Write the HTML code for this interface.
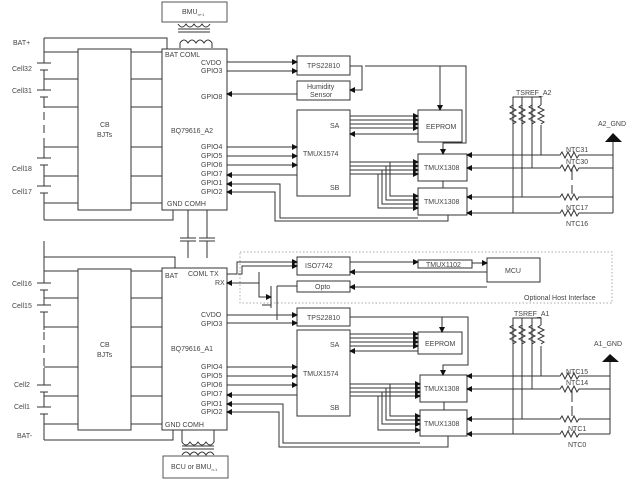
<!DOCTYPE html>
<html><head><meta charset="utf-8"><style>
html,body{margin:0;padding:0;background:#fff}
svg{display:block}
text{font-family:"Liberation Sans",sans-serif;font-size:7px;fill:#444}
</style></head><body>
<svg width="632" height="480" viewBox="0 0 632 480" xmlns="http://www.w3.org/2000/svg">
<defs>
<marker id="a" markerWidth="6" markerHeight="6" refX="5" refY="3" orient="auto" markerUnits="userSpaceOnUse"><path d="M0,0 L6,3 L0,6 z" fill="#111"/></marker>
</defs>
<g stroke="#333" stroke-width="1" fill="none">
<!-- ===== TOP HALF ===== -->
<rect x="162" y="2" width="65" height="20" stroke="#555"/>
<path d="M178,24 q4,6 8,0 q4,6 8,0 q4,6 8,0 q4,6 8,0"/>
<line x1="178" y1="29" x2="210" y2="29"/><line x1="178" y1="32" x2="210" y2="32"/>
<path d="M180,48 V43 q4,-6 8,0 q4,-6 8,0 q4,-6 8,0 q4,-6 8,0 V48"/>
<rect x="162" y="49" width="65" height="161"/>
<rect x="78" y="49" width="53" height="161"/>
<path d="M44,38 H167 V49"/>
<path d="M44,38 V63 M44,70 V90 M44,97 V108 M44,158 V145 M44,165 V186 M44,193 V220"/>
<path d="M44,112 V145" stroke-dasharray="8,5"/>
<path d="M37,63 H51 M40,70 H48 M37,90 H51 M40,97 H48 M37,158 H51 M40,165 H48 M37,186 H51 M40,193 H48"/>
<path d="M44,52 H78 M44,79 H78 M44,107 H78 M44,147 H78 M44,176 H78 M44,203 H78"/>
<path d="M131,52 H162 M131,79 H162 M131,107 H162 M131,147 H162 M131,176 H162 M131,203 H162"/>
<path d="M44,220 H173 V210"/>
<path d="M188,210 V238 M207,210 V238 M180,238 H196 M199,238 H215 M180,241 H196 M199,241 H215 M188,241 V258 M207,241 V258"/>
<!-- right side top -->
<rect x="297" y="56" width="53" height="19"/>
<rect x="297" y="81" width="53" height="19"/>
<rect x="297" y="110" width="53" height="86"/>
<rect x="418" y="110" width="44" height="32"/>
<rect x="418" y="154" width="49" height="27"/>
<rect x="418" y="188" width="49" height="27"/>
<line x1="227" y1="62" x2="297" y2="62" marker-end="url(#a)"/>
<line x1="227" y1="71" x2="297" y2="71" marker-end="url(#a)"/>
<line x1="297" y1="94" x2="227" y2="94" marker-end="url(#a)"/>
<line x1="227" y1="147" x2="297" y2="147" marker-end="url(#a)"/>
<line x1="227" y1="156" x2="297" y2="156" marker-end="url(#a)"/>
<line x1="227" y1="165" x2="297" y2="165" marker-end="url(#a)"/>
<line x1="297" y1="175" x2="227" y2="175" marker-end="url(#a)"/>
<path d="M418,218 H280 V184 H227" marker-end="url(#a)"/>
<path d="M448,215 V221 H275 V192 H227" marker-end="url(#a)"/>
<path d="M350,66 H362 V90 H350" marker-end="url(#a)"/>
<path d="M365,66 H440 V110" marker-end="url(#a)"/>
<path d="M440,66 H466 V143 H443 V154" marker-end="url(#a)"/>
<line x1="350" y1="116" x2="418" y2="116" marker-end="url(#a)"/>
<line x1="350" y1="120" x2="418" y2="120" marker-end="url(#a)"/>
<line x1="350" y1="124" x2="418" y2="124" marker-end="url(#a)"/>
<line x1="350" y1="128" x2="418" y2="128" marker-end="url(#a)"/>
<line x1="418" y1="134" x2="350" y2="134" marker-end="url(#a)"/>
<line x1="350" y1="162" x2="418" y2="162" marker-end="url(#a)"/>
<line x1="350" y1="166" x2="418" y2="166" marker-end="url(#a)"/>
<line x1="350" y1="170" x2="418" y2="170" marker-end="url(#a)"/>
<line x1="350" y1="174" x2="418" y2="174" marker-end="url(#a)"/>
<path d="M390,162 V196 H418" marker-end="url(#a)"/>
<path d="M386,166 V200 H418" marker-end="url(#a)"/>
<path d="M382,170 V204 H418" marker-end="url(#a)"/>
<path d="M378,174 V208 H418" marker-end="url(#a)"/>
<line x1="443" y1="181" x2="443" y2="188"/>
<line x1="541" y1="155" x2="467" y2="155" marker-end="url(#a)"/>
<line x1="532" y1="168" x2="467" y2="168" marker-end="url(#a)"/>
<line x1="522" y1="197" x2="467" y2="197" marker-end="url(#a)"/>
<line x1="513" y1="213" x2="467" y2="213" marker-end="url(#a)"/>
<path d="M513,213 V97 H541 V105 M522,197 V105 M532,168 V105 M541,155 V125 M522,97 V105 M532,97 V105 M513,97 V105"/>
<path d="M513,105 l-3,2 6,3 -6,3 6,3 -6,3 6,3 -3,2 M522,105 l-3,2 6,3 -6,3 6,3 -6,3 6,3 -3,2 M532,105 l-3,2 6,3 -6,3 6,3 -6,3 6,3 -3,2 M541,105 l-3,2 6,3 -6,3 6,3 -6,3 6,3 -3,2"/>
<path d="M541,155 H560 l2,-3 3,6 3,-6 3,6 3,-6 3,6 2,-3 H613 M532,168 H560 l2,-3 3,6 3,-6 3,6 3,-6 3,6 2,-3 H613 M522,197 H560 l2,-3 3,6 3,-6 3,6 3,-6 3,6 2,-3 H613 M513,213 H560 l2,-3 3,6 3,-6 3,6 3,-6 3,6 2,-3 H613"/>
<path d="M572,168 V180 M572,185 V194 M613,142 V213"/>
<!-- ===== BOTTOM HALF ===== -->
<rect x="162" y="268" width="65" height="162"/>
<rect x="78" y="269" width="53" height="161"/>
<path d="M44,241 V283 M44,290 V305 M44,312 V330 M44,368 V385 M44,392 V407 M44,414 V440"/>
<path d="M44,332 V368" stroke-dasharray="8,5"/>
<path d="M37,283 H51 M40,290 H48 M37,305 H51 M40,312 H48 M37,385 H51 M40,392 H48 M37,407 H51 M40,414 H48"/>
<path d="M44,257 H175 V268"/>
<path d="M44,271 H78 M44,298 H78 M44,327 H78 M44,367 H78 M44,396 H78 M44,424 H78"/>
<path d="M131,271 H162 M131,298 H162 M131,327 H162 M131,367 H162 M131,396 H162 M131,424 H162"/>
<path d="M44,440 H173 V430"/>
<path d="M182,430 V442 q4,6 8,0 q4,6 8,0 q4,6 8,0 q4,6 8,0 V430"/>
<line x1="182" y1="446" x2="214" y2="446"/><line x1="182" y1="449" x2="214" y2="449"/>
<path d="M182,455 q4,-6 8,0 q4,-6 8,0 q4,-6 8,0 q4,-6 8,0"/>
<rect x="163" y="456" width="65" height="22" stroke="#555"/>
<rect x="240" y="252" width="372" height="51" stroke="#aaa" stroke-dasharray="1.5,2"/>
<rect x="297" y="257" width="53" height="18"/>
<rect x="297" y="281" width="53" height="11"/>
<rect x="418" y="260" width="54" height="8"/>
<rect x="487" y="258" width="53" height="24"/>
<path d="M227,274 H237 V262 H297" marker-end="url(#a)"/>
<path d="M238,274 H242 V266 H297" marker-end="url(#a)"/>
<path d="M259,272 V297 H271" marker-end="url(#a)"/>
<line x1="259" y1="283" x2="227" y2="283" marker-end="url(#a)"/>
<path d="M271,286 V308 M262,305 H271 M277,286 H297 V286 M277,286 V320"/>
<line x1="350" y1="262" x2="418" y2="262" marker-end="url(#a)"/>
<line x1="472" y1="263" x2="487" y2="263" marker-end="url(#a)"/>
<line x1="487" y1="272" x2="350" y2="272" marker-end="url(#a)"/>
<line x1="487" y1="287" x2="350" y2="287" marker-end="url(#a)"/>
<rect x="297" y="308" width="53" height="18"/>
<rect x="297" y="330" width="53" height="86"/>
<rect x="418" y="332" width="44" height="22"/>
<rect x="420" y="375" width="47" height="27"/>
<rect x="420" y="410" width="47" height="26"/>
<line x1="227" y1="315" x2="297" y2="315" marker-end="url(#a)"/>
<line x1="227" y1="323" x2="297" y2="323" marker-end="url(#a)"/>
<line x1="227" y1="367" x2="297" y2="367" marker-end="url(#a)"/>
<line x1="227" y1="376" x2="297" y2="376" marker-end="url(#a)"/>
<line x1="227" y1="385" x2="297" y2="385" marker-end="url(#a)"/>
<line x1="297" y1="395" x2="227" y2="395" marker-end="url(#a)"/>
<path d="M420,443 H283 V404 H227" marker-end="url(#a)"/>
<path d="M448,436 V447 H279 V412 H227" marker-end="url(#a)"/>
<path d="M350,317 H442 V332" marker-end="url(#a)"/>
<path d="M442,317 H468 V365 H443 V375" marker-end="url(#a)"/>
<line x1="350" y1="334" x2="418" y2="334" marker-end="url(#a)"/>
<line x1="350" y1="338" x2="418" y2="338" marker-end="url(#a)"/>
<line x1="350" y1="342" x2="418" y2="342" marker-end="url(#a)"/>
<line x1="350" y1="346" x2="418" y2="346" marker-end="url(#a)"/>
<line x1="418" y1="351" x2="350" y2="351" marker-end="url(#a)"/>
<line x1="350" y1="384" x2="420" y2="384" marker-end="url(#a)"/>
<line x1="350" y1="388" x2="420" y2="388" marker-end="url(#a)"/>
<line x1="350" y1="392" x2="420" y2="392" marker-end="url(#a)"/>
<line x1="350" y1="396" x2="420" y2="396" marker-end="url(#a)"/>
<path d="M390,384 V416 H420" marker-end="url(#a)"/>
<path d="M386,388 V420 H420" marker-end="url(#a)"/>
<path d="M382,392 V424 H420" marker-end="url(#a)"/>
<path d="M378,396 V430 H420" marker-end="url(#a)"/>
<line x1="444" y1="402" x2="444" y2="410"/>
<line x1="541" y1="376" x2="467" y2="376" marker-end="url(#a)"/>
<line x1="532" y1="389" x2="467" y2="389" marker-end="url(#a)"/>
<line x1="522" y1="419" x2="467" y2="419" marker-end="url(#a)"/>
<line x1="513" y1="434" x2="467" y2="434" marker-end="url(#a)"/>
<path d="M513,434 V318 H541 V325 M522,419 V325 M532,389 V325 M541,376 V346 M522,318 V325 M532,318 V325"/>
<path d="M513,325 l-3,2 6,3 -6,3 6,3 -6,3 6,3 -3,2 M522,325 l-3,2 6,3 -6,3 6,3 -6,3 6,3 -3,2 M532,325 l-3,2 6,3 -6,3 6,3 -6,3 6,3 -3,2 M541,325 l-3,2 6,3 -6,3 6,3 -6,3 6,3 -3,2"/>
<path d="M541,376 H560 l2,-3 3,6 3,-6 3,6 3,-6 3,6 2,-3 H610 M532,389 H560 l2,-3 3,6 3,-6 3,6 3,-6 3,6 2,-3 H610 M522,419 H560 l2,-3 3,6 3,-6 3,6 3,-6 3,6 2,-3 H610 M513,434 H560 l2,-3 3,6 3,-6 3,6 3,-6 3,6 2,-3 H610"/>
<path d="M572,389 V402 M572,406 V416 M610,362 V434"/>
</g>
<path d="M605,142 L613,133 L622,142 z" fill="#111"/>
<path d="M602,362 L610,354 L619,362 z" fill="#111"/>
<!-- labels -->
<text x="182" y="14" font-size="6">BMU<tspan font-size="4" dy="2">n+1</tspan></text>
<text x="13" y="45" font-size="6">BAT+</text>
<text x="12" y="71">Cell32</text><text x="12" y="93">Cell31</text>
<text x="12" y="171">Cell18</text><text x="12" y="194">Cell17</text>
<text x="100" y="127">CB</text><text x="97" y="137">BJTs</text>
<text x="165" y="57">BAT  COML</text>
<text x="201" y="65">CVDO</text><text x="201" y="73">GPIO3</text>
<text x="201" y="99">GPIO8</text>
<text x="171" y="133">BQ79616_A2</text>
<text x="201" y="149">GPIO4</text><text x="201" y="158">GPIO5</text><text x="201" y="167">GPIO6</text>
<text x="201" y="176">GPIO7</text><text x="201" y="185">GPIO1</text><text x="201" y="194">GPIO2</text>
<text x="167" y="206">GND  COMH</text>
<text x="307" y="68">TPS22810</text>
<text x="307" y="89">Humidity</text><text x="310" y="97">Sensor</text>
<text x="330" y="128">SA</text><text x="303" y="156">TMUX1574</text><text x="330" y="190">SB</text>
<text x="426" y="129">EEPROM</text>
<text x="424" y="170">TMUX1308</text><text x="424" y="204">TMUX1308</text>
<text x="516" y="95">TSREF_A2</text>
<text x="598" y="126">A2_GND</text>
<text x="566" y="152">NTC31</text><text x="566" y="164">NTC30</text>
<text x="566" y="210">NTC17</text><text x="566" y="226">NTC16</text>
<text x="12" y="286">Cell16</text><text x="12" y="308">Cell15</text>
<text x="14" y="387">Cell2</text><text x="14" y="409">Cell1</text>
<text x="17" y="438" font-size="6">BAT-</text>
<text x="100" y="347">CB</text><text x="97" y="357">BJTs</text>
<text x="165" y="278">BAT</text><text x="188" y="276">COML  TX</text><text x="215" y="285">RX</text>
<text x="201" y="317">CVDO</text><text x="201" y="326">GPIO3</text>
<text x="171" y="351">BQ79616_A1</text>
<text x="201" y="369">GPIO4</text><text x="201" y="378">GPIO5</text><text x="201" y="387">GPIO6</text>
<text x="201" y="396">GPIO7</text><text x="201" y="406">GPIO1</text><text x="201" y="414">GPIO2</text>
<text x="165" y="427">GND  COMH</text>
<text x="171" y="469" font-size="6">BCU or BMU<tspan font-size="4" dy="2">n-1</tspan></text>
<text x="305" y="268">ISO7742</text><text x="315" y="289">Opto</text>
<text x="426" y="267" font-size="6">TMUX1102</text>
<text x="505" y="273">MCU</text>
<text x="524" y="300" font-size="6">Optional Host Interface</text>
<text x="307" y="320">TPS22810</text>
<text x="330" y="347">SA</text><text x="303" y="376">TMUX1574</text><text x="330" y="410">SB</text>
<text x="425" y="346">EEPROM</text>
<text x="424" y="391">TMUX1308</text><text x="424" y="426">TMUX1308</text>
<text x="514" y="316">TSREF_A1</text>
<text x="594" y="346">A1_GND</text>
<text x="566" y="374">NTC15</text><text x="566" y="385">NTC14</text>
<text x="568" y="431">NTC1</text><text x="568" y="447">NTC0</text>
</svg>
</body></html>
